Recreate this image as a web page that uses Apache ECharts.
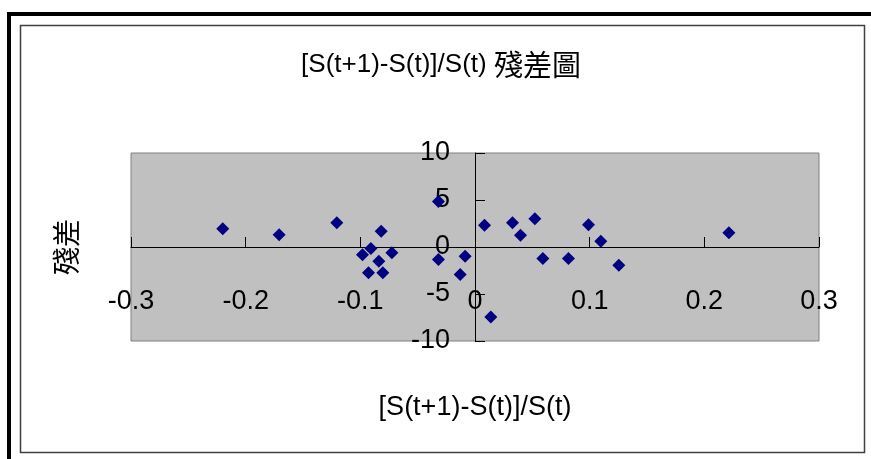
<!DOCTYPE html>
<html>
<head>
<meta charset="utf-8">
<script src="https://cdn.jsdelivr.net/npm/echarts@6/dist/echarts.min.js"></script>
<style>
  html, body { margin: 0; padding: 0; background: #ffffff; }
  #chart { width: 871px; height: 459px; }
</style>
</head>
<body>
<div id="chart"></div>
<script>
// Relative change [S(t+1)-S(t)]/S(t) for each observation
const changeValues = [
  -0.2200, -0.1708, -0.1205, -0.0818, -0.0908, -0.0981, -0.0725, -0.0839,
  -0.0929, -0.0804, -0.0319, -0.0319, -0.0086, -0.0129,
  0.0083, 0.0327, 0.0397, 0.0522, 0.0592, 0.0815, 0.0990, 0.1097,
  0.1254, 0.2214, 0.0138
];
// Residual for each observation
const residualValues = [
  1.94, 1.30, 2.57, 1.68, -0.16, -0.83, -0.62, -1.51,
  -2.75, -2.75, 4.84, -1.33, -0.98, -2.93,
  2.32, 2.57, 1.26, 3.00, -1.22, -1.22, 2.36, 0.62,
  -1.93, 1.51, -7.46
];
const xTicks = { min: -0.3, max: 0.3, step: 0.1 };
const yTicks = { min: -10, max: 10, step: 5 };

const chartTitle = '[S(t+1)-S(t)]/S(t) ';
const chartTitleCjk = '殘差圖';
const xName = '[S(t+1)-S(t)]/S(t)';
const yName = '殘差';

const points = changeValues.map((x, i) => [x, residualValues[i]]);

const LATIN = 'Liberation Sans, Arial, sans-serif';
const CJK = 'Noto Sans CJK TC, Noto Sans CJK SC, sans-serif';

const chart = echarts.init(document.getElementById('chart'), null, { renderer: 'canvas' });
chart.setOption({
  backgroundColor: '#ffffff',
  animation: false,
  graphic: [
    // outer heavy frame and inner chart-area frame
    { type: 'rect', silent: true, z: 0,
      shape: { x: 9, y: 14, width: 900, height: 500 },
      style: { fill: null, stroke: '#000000', lineWidth: 4 } },
    { type: 'rect', silent: true, z: 0,
      shape: { x: 20.5, y: 25.5, width: 844, height: 427 },
      style: { fill: null, stroke: '#404040', lineWidth: 1.5 } },
    { type: 'text', silent: true, z: 10, x: 441, y: 65,
      style: {
        text: '{a|' + chartTitle + '}{b|' + chartTitleCjk + '}',
        align: 'center', verticalAlign: 'middle',
        rich: {
          a: { fontFamily: LATIN, fontSize: 26, fill: '#000000' },
          b: { fontFamily: CJK, fontSize: 29, fill: '#000000' }
        }
      } }
  ],
  grid: {
    left: 131, top: 153, width: 688, height: 188,
    show: true, backgroundColor: '#C0C0C0', borderColor: '#808080', borderWidth: 1,
    containLabel: false,
    outerBoundsMode: 'none'
  },
  xAxis: {
    type: 'value',
    min: xTicks.min, max: xTicks.max, interval: xTicks.step,
    name: xName, nameLocation: 'middle', nameGap: 53,
    nameTextStyle: { fontFamily: LATIN, fontSize: 27, color: '#000000' },
    axisLine: { show: true, onZero: true, lineStyle: { color: '#000000', width: 1 } },
    axisTick: { show: true, inside: true, length: 10, lineStyle: { color: '#000000', width: 1 } },
    axisLabel: {
      show: true, margin: -53, fontFamily: LATIN, fontSize: 27, color: '#000000',
      showMinLabel: true, showMaxLabel: true, hideOverlap: false,
      formatter: v => String(Math.round(v * 10) / 10)
    },
    splitLine: { show: false }
  },
  yAxis: {
    type: 'value',
    min: yTicks.min, max: yTicks.max, interval: yTicks.step,
    name: yName, nameLocation: 'middle', nameGap: 51, nameRotate: 90,
    nameTextStyle: { fontFamily: CJK, fontSize: 28, color: '#000000' },
    axisLine: { show: true, onZero: true, lineStyle: { color: '#000000', width: 1 } },
    axisTick: { show: true, inside: true, length: 10, lineStyle: { color: '#000000', width: 1 } },
    axisLabel: {
      show: true, margin: -319, fontFamily: LATIN, fontSize: 27, color: '#000000',
      padding: [5, 0, 0, 0],
      showMinLabel: true, showMaxLabel: true, hideOverlap: false
    },
    splitLine: { show: false }
  },
  series: [{
    type: 'scatter',
    data: points,
    symbol: 'diamond',
    symbolSize: 13,
    itemStyle: { color: '#000080', opacity: 1 },
    z: 3
  }]
});
</script>
</body>
</html>
